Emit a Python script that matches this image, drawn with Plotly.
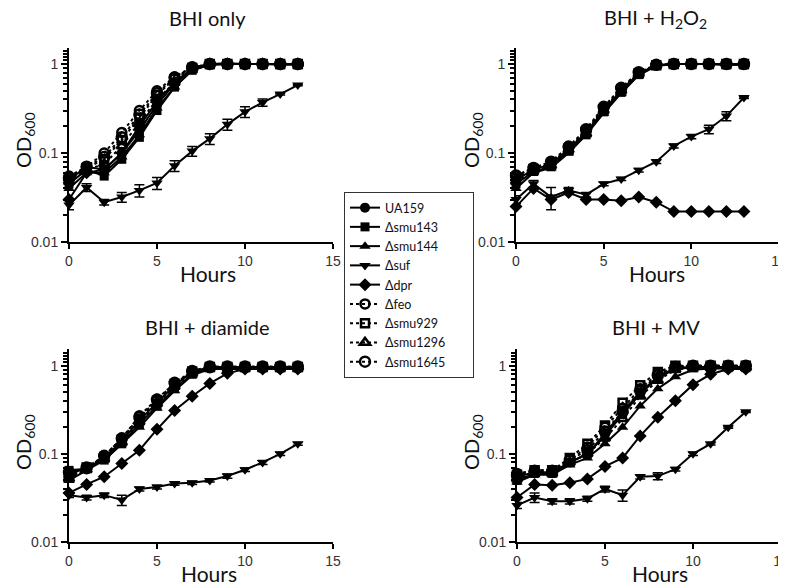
import plotly.graph_objects as go

hours = list(range(14))

strains = ["UA159", "Δsmu143", "Δsmu144", "Δsuf", "Δdpr", "Δfeo", "Δsmu929", "Δsmu1296", "Δsmu1645"]

# ---- BHI only ----
bhi_UA159   = [0.050, 0.070, 0.065, 0.100, 0.180, 0.350, 0.600, 0.880, 1.00, 1.02, 1.00, 1.00, 1.00, 1.00]
bhi_smu143  = [0.045, 0.065, 0.055, 0.085, 0.150, 0.300, 0.550, 0.850, 0.98, 1.00, 1.00, 1.00, 0.98, 0.98]
bhi_smu144  = [0.040, 0.060, 0.060, 0.090, 0.160, 0.320, 0.550, 0.850, 0.98, 1.00, 1.00, 1.00, 1.00, 1.00]
bhi_suf     = [0.026, 0.041, 0.028, 0.032, 0.038, 0.046, 0.072, 0.105, 0.145, 0.210, 0.290, 0.370, 0.460, 0.580]
bhi_dpr     = [0.030, 0.060, 0.065, 0.100, 0.200, 0.380, 0.620, 0.900, 1.00, 1.00, 1.00, 1.00, 1.00, 1.00]
bhi_feo     = [0.055, 0.070, 0.100, 0.170, 0.300, 0.500, 0.720, 0.920, 1.00, 1.00, 1.00, 1.00, 1.00, 1.00]
bhi_smu929  = [0.050, 0.068, 0.085, 0.140, 0.250, 0.450, 0.680, 0.900, 1.00, 1.00, 1.00, 1.00, 1.00, 1.00]
bhi_smu1296 = [0.048, 0.065, 0.075, 0.120, 0.220, 0.400, 0.620, 0.880, 1.00, 1.00, 1.00, 1.00, 1.00, 1.00]
bhi_smu1645 = [0.052, 0.070, 0.090, 0.150, 0.270, 0.470, 0.700, 0.920, 1.00, 1.00, 1.00, 1.00, 1.00, 1.00]
bhi_suf_err = [0.003, 0.004, 0.002, 0.004, 0.006, 0.007, 0.010, 0.013, 0.020, 0.030, 0.040, 0.035, 0.010, 0.010]

# ---- BHI + H2O2 ----
h2o2_UA159   = [0.050, 0.065, 0.075, 0.110, 0.170, 0.300, 0.500, 0.780, 0.97, 1.00, 1.00, 1.00, 1.00, 1.00]
h2o2_smu143  = [0.045, 0.062, 0.070, 0.105, 0.160, 0.290, 0.480, 0.760, 0.96, 1.00, 1.00, 1.00, 0.98, 0.98]
h2o2_smu144  = [0.040, 0.060, 0.068, 0.100, 0.160, 0.280, 0.470, 0.750, 0.95, 1.00, 1.00, 1.00, 0.98, 0.98]
h2o2_suf     = [0.030, 0.045, 0.032, 0.038, 0.034, 0.045, 0.051, 0.064, 0.080, 0.120, 0.153, 0.185, 0.260, 0.420]
h2o2_dpr     = [0.025, 0.040, 0.030, 0.036, 0.030, 0.030, 0.029, 0.032, 0.028, 0.022, 0.022, 0.022, 0.022, 0.022]
h2o2_feo     = [0.055, 0.068, 0.078, 0.115, 0.180, 0.320, 0.530, 0.800, 0.98, 1.00, 1.00, 1.00, 1.00, 1.00]
h2o2_smu929  = [0.052, 0.066, 0.076, 0.112, 0.175, 0.310, 0.520, 0.790, 0.97, 1.00, 1.00, 1.00, 1.00, 1.00]
h2o2_smu1296 = [0.048, 0.063, 0.072, 0.108, 0.165, 0.300, 0.500, 0.770, 0.96, 1.00, 1.00, 1.00, 1.00, 1.00]
h2o2_smu1645 = [0.056, 0.068, 0.080, 0.118, 0.185, 0.330, 0.540, 0.810, 0.98, 1.00, 1.00, 1.00, 1.00, 1.00]
h2o2_suf_err = [0.003, 0.004, 0.009, 0.003, 0.002, 0.002, 0.002, 0.003, 0.004, 0.006, 0.008, 0.020, 0.030, 0.010]

# ---- BHI + diamide ----
dia_UA159   = [0.060, 0.068, 0.090, 0.140, 0.240, 0.380, 0.600, 0.850, 0.97, 0.97, 0.97, 0.97, 0.97, 0.97]
dia_smu143  = [0.065, 0.068, 0.085, 0.130, 0.220, 0.350, 0.550, 0.800, 0.95, 0.95, 0.95, 0.95, 0.95, 0.95]
dia_smu144  = [0.050, 0.065, 0.085, 0.130, 0.200, 0.330, 0.520, 0.780, 0.92, 0.92, 0.92, 0.92, 0.92, 0.92]
dia_suf     = [0.034, 0.032, 0.034, 0.030, 0.040, 0.042, 0.046, 0.047, 0.050, 0.056, 0.066, 0.080, 0.100, 0.130]
dia_dpr     = [0.036, 0.045, 0.055, 0.078, 0.110, 0.190, 0.310, 0.450, 0.630, 0.820, 0.920, 0.920, 0.920, 0.920]
dia_feo     = [0.055, 0.068, 0.095, 0.150, 0.270, 0.420, 0.630, 0.850, 0.95, 0.95, 0.95, 0.95, 0.95, 0.95]
dia_smu929  = [0.058, 0.070, 0.092, 0.145, 0.250, 0.400, 0.620, 0.860, 0.97, 0.97, 0.97, 0.97, 0.97, 0.97]
dia_smu1296 = [0.052, 0.066, 0.088, 0.135, 0.230, 0.370, 0.580, 0.820, 0.95, 0.95, 0.95, 0.95, 0.95, 0.95]
dia_smu1645 = [0.062, 0.070, 0.095, 0.150, 0.260, 0.410, 0.640, 0.870, 0.98, 0.98, 0.98, 0.98, 0.98, 0.98]
dia_suf_err = [0.002, 0.002, 0.002, 0.004, 0.002, 0.002, 0.002, 0.002, 0.002, 0.003, 0.003, 0.004, 0.004, 0.005]

# ---- BHI + MV ----
mv_UA159   = [0.055, 0.062, 0.062, 0.080, 0.100, 0.170, 0.300, 0.500, 0.750, 0.950, 0.97, 0.97, 0.97, 0.97]
mv_smu143  = [0.050, 0.060, 0.060, 0.080, 0.100, 0.160, 0.280, 0.480, 0.720, 0.930, 0.95, 0.95, 0.95, 0.95]
mv_smu144  = [0.048, 0.058, 0.058, 0.075, 0.090, 0.130, 0.200, 0.350, 0.550, 0.750, 0.900, 0.930, 0.930, 0.930]
mv_suf     = [0.026, 0.032, 0.029, 0.029, 0.031, 0.040, 0.034, 0.055, 0.056, 0.067, 0.100, 0.130, 0.200, 0.300]
mv_dpr     = [0.032, 0.045, 0.044, 0.047, 0.052, 0.072, 0.090, 0.160, 0.260, 0.400, 0.610, 0.800, 0.920, 0.920]
mv_feo     = [0.060, 0.065, 0.065, 0.085, 0.120, 0.200, 0.330, 0.550, 0.800, 0.980, 1.00, 1.00, 1.00, 1.00]
mv_smu929  = [0.058, 0.065, 0.065, 0.090, 0.130, 0.210, 0.380, 0.600, 0.850, 1.000, 1.00, 1.00, 1.00, 1.00]
mv_smu1296 = [0.052, 0.060, 0.060, 0.080, 0.100, 0.150, 0.250, 0.450, 0.680, 0.900, 0.95, 0.95, 0.95, 0.95]
mv_smu1645 = [0.057, 0.063, 0.063, 0.085, 0.110, 0.180, 0.300, 0.520, 0.780, 0.970, 1.00, 1.00, 1.00, 1.00]
mv_suf_err = [0.002, 0.004, 0.002, 0.002, 0.002, 0.003, 0.005, 0.003, 0.005, 0.003, 0.004, 0.004, 0.005, 0.005]

panels = [
    ("BHI only", [bhi_UA159, bhi_smu143, bhi_smu144, bhi_suf, bhi_dpr, bhi_feo, bhi_smu929, bhi_smu1296, bhi_smu1645], bhi_suf_err),
    ("BHI + H<sub>2</sub>O<sub>2</sub>", [h2o2_UA159, h2o2_smu143, h2o2_smu144, h2o2_suf, h2o2_dpr, h2o2_feo, h2o2_smu929, h2o2_smu1296, h2o2_smu1645], h2o2_suf_err),
    ("BHI + diamide", [dia_UA159, dia_smu143, dia_smu144, dia_suf, dia_dpr, dia_feo, dia_smu929, dia_smu1296, dia_smu1645], dia_suf_err),
    ("BHI + MV", [mv_UA159, mv_smu143, mv_smu144, mv_suf, mv_dpr, mv_feo, mv_smu929, mv_smu1296, mv_smu1645], mv_suf_err),
]

symbols = ["circle", "square", "triangle-up", "triangle-down", "diamond",
           "circle-open", "square-open", "triangle-up-open", "circle-open"]
dashes = ["solid"] * 5 + ["dot"] * 4
sizes = [10, 9, 10, 10, 10, 9, 8, 9, 10]

W, H = 786, 586
OFF = 8  # page body margin of the browser
def px(x):
    return (x - OFF) / W
def py(y):
    return 1 - (y - OFF) / H

# pixel geometry of each panel: (left, right, bottom, top, ytop_log)
geom = [
    (69, 333, 242, 48, 0.18),
    (516, 779, 242, 48, 0.18),
    (69, 333, 542, 349, 0.19),
    (517, 781, 542, 349, 0.19),
]
title_pos = [(207, 18), (655, 18), (207, 327), (656, 327)]
hours_pos = [(208, 273), (657, 273), (209, 573), (660, 573)]
od_pos = [(24, 140), (472, 140), (24, 442), (472, 442)]

PAD = "\u00a0" * 7  # right padding inside the legend box

fig = go.Figure()
layout = {}
annotations = []
for p, (title, series, suf_err) in enumerate(panels):
    ax = "" if p == 0 else str(p + 1)
    for i, name in enumerate(strains):
        tr = dict(
            x=hours, y=series[i], name=name + PAD, mode="lines+markers",
            xaxis="x" + ax, yaxis="y" + ax,
            line=dict(color="black", width=2, dash=dashes[i]),
            marker=dict(symbol=symbols[i], size=sizes[i], color="black",
                        line=dict(color="black", width=2.5 if i >= 5 else 0)),
            showlegend=(p == 0), cliponaxis=False,
        )
        if i == 3:
            tr["error_y"] = dict(type="data", array=suf_err, visible=True,
                                 color="black", thickness=1.5, width=5)
        fig.add_trace(go.Scatter(**tr))
    l, r, b, t, ytop = geom[p]
    layout["xaxis" + ax] = dict(
        domain=[px(l), px(r)], anchor="y" + ax, range=[0, 15], automargin=False,
        tickvals=[0, 5, 10, 15], ticks="outside", ticklen=5, tickwidth=2, tickcolor="black",
        showline=True, linewidth=2, linecolor="black", showgrid=False, zeroline=False,
        tickfont=dict(family="Liberation Sans, Arial", size=14, color="#333"),
    )
    layout["yaxis" + ax] = dict(
        domain=[py(b), py(t)], anchor="x" + ax, type="log", range=[-2, ytop],
        automargin=False,
        tickvals=[0.01, 0.1, 1], ticktext=["0.01", "0.1", "1"],
        ticks="outside", ticklen=6, tickwidth=2, tickcolor="black",
        minor=dict(ticks="outside", ticklen=4, tickwidth=1.5, tickcolor="black",
                   tickvals=[k * 0.01 for k in range(2, 10)] + [k * 0.1 for k in range(2, 10)] + [1.1, 1.2, 1.3, 1.4]),
        showline=True, linewidth=2, linecolor="black", showgrid=False, zeroline=False,
        tickfont=dict(family="Liberation Sans, Arial", size=14, color="#333"),
    )
    tx, ty = title_pos[p]
    annotations.append(dict(text=title, x=px(tx), y=py(ty), xref="paper", yref="paper",
                            xanchor="center", yanchor="middle",
                            showarrow=False, font=dict(family="Lato", size=20, color="#111")))
    hx, hy = hours_pos[p]
    annotations.append(dict(text="Hours", x=px(hx), y=py(hy), xref="paper", yref="paper",
                            xanchor="center", yanchor="middle",
                            showarrow=False, font=dict(family="Lato", size=21, color="#111")))
    ox, oy = od_pos[p]
    annotations.append(dict(text="OD<sub>600</sub>", x=px(ox), y=py(oy), xref="paper", yref="paper",
                            xanchor="center", yanchor="middle",
                            showarrow=False, textangle=-90, font=dict(family="Lato", size=20, color="#111")))

fig.update_layout(
    width=W, height=H, margin=dict(l=0, r=0, t=0, b=0, autoexpand=False),
    template="none",
    paper_bgcolor="white", plot_bgcolor="white",
    showlegend=True,
    legend=dict(x=px(344), y=py(192), xanchor="left", yanchor="top",
                bordercolor="#333", borderwidth=1, bgcolor="white",
                font=dict(family="Lato", size=12.5, color="#111"),
                itemwidth=30, tracegroupgap=0),
    annotations=annotations,
    **layout,
)

fig.write_html("out.html")
